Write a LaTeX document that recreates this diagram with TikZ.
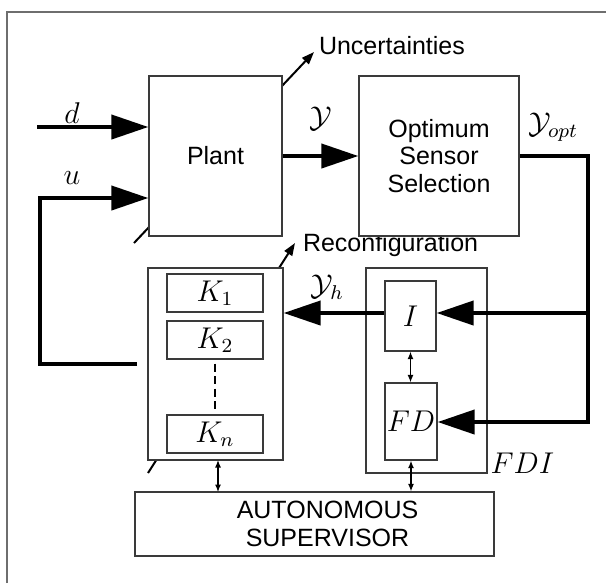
\documentclass[tikz,border=0pt]{standalone}
\usepackage{amsmath}
\usepackage{fontspec}
\setsansfont{Liberation Sans}
\usepackage{tikz}
\usetikzlibrary{arrows.meta,positioning,calc}
\definecolor{framegray}{HTML}{6E6E6E}
\definecolor{boxgray}{HTML}{3A3A3A}

\begin{document}
\begin{tikzpicture}[x=0.4pt, y=-0.4pt,
    every node/.style={font=\sffamily\fontsize{10pt}{11pt}\selectfont},
    block/.style={draw=boxgray, line width=0.5pt, fill=white, inner sep=0pt, align=center},
    mathlbl/.style={font=\large},
    sig/.style={line width=1.6pt, line join=miter, -{Triangle[length=14.8pt,width=9.6pt]}},
    link/.style={line width=0.5pt, {Latex[length=3pt,width=2.4pt]}-{Latex[length=3pt,width=2.4pt]}},
    vary/.style={line width=0.8pt, -{Triangle[length=5pt,width=3.6pt]}}]
    \useasboundingbox (0,0) rectangle (606,583);

    % Outer frame (only top and left edges visible)
    \draw[framegray, line width=0.5pt] (7,583) |- (606,12);

    % Variable-block arrows (drawn first, boxes cover the middle part)
    \coordinate (uncstart) at (134,243);
    \coordinate (uncend) at (314,52);
    \coordinate (recstart) at (148,473);
    \coordinate (recend) at (295,243);
    \draw[vary] (uncstart) -- (uncend);
    \draw[vary] (recstart) -- (recend);
    \node[anchor=west, inner sep=1pt] (unclbl) at ($(uncend)+(2,-6)$) {Uncertainties};
    \node[anchor=west, inner sep=1pt] (reclbl) at (300,245) {Reconfiguration};

    % Main blocks
    \node[block, minimum width=53.2pt, minimum height=64pt] (plant) at (215.5,156) {Plant};
    \node[block, minimum width=64pt, minimum height=64pt] (oss) at (439,156) {Optimum\\Sensor\\Selection};

    % Controller bank
    \node[block, minimum width=54pt, minimum height=76.8pt] (ctrl) at (215.5,364) {};
    \node[block, mathlbl, minimum width=38.4pt, minimum height=15.2pt] (k1) at (215,293) {$K_1$};
    \node[block, mathlbl, minimum width=38.4pt, minimum height=15.2pt] (k2) at (215,340) {$K_2$};
    \node[block, mathlbl, minimum width=38.4pt, minimum height=15.2pt] (kn) at (215,434) {$K_n$};
    \draw[line width=0.5pt, dash pattern=on 3.2pt off 1.8pt] ([yshift=-1.6pt]k2.south) -- ([yshift=2pt]kn.north);

    % FDI unit
    \node[block, minimum width=48.4pt, minimum height=82pt] (fdi) at (426.5,370.5) {};
    \node[block, mathlbl, minimum width=20.4pt, minimum height=28pt] (iso) at (410.5,316) {$I$};
    \node[block, mathlbl, minimum width=20.8pt, minimum height=30.8pt] (fd) at (411,421.5) {$FD$};
    \node[mathlbl, anchor=west, inner sep=1pt] (fdilbl) at (fdi.south east |- 0,463) {$FDI$};

    % Supervisor
    \node[block, minimum width=143.6pt, minimum height=25.6pt] (sup) at (314.5,524) {};
    \node[align=center, inner sep=0pt] (suptxt) at ($(sup.center)+(13,0)$) {AUTONOMOUS\\SUPERVISOR};

    % Inputs
    \coordinate (din) at (37,127);
    \draw[sig] (din) -- (din -| plant.west);
    \node[mathlbl] (dlbl) at (72,113) {$d$};
    \coordinate (ufb) at (137,364);
    \draw[sig] (ufb) -| (40,198) -- (plant.west |- 0,198);
    \node[mathlbl] (ulbl) at (72,178) {$u$};

    % Plant output to sensor selection
    \draw[sig] (plant.east) -- (oss.west) node[mathlbl, midway, above=6pt] (ylbl) {$\mathcal{Y}$};
    \node[mathlbl] (yoptlbl) at (553,127) {$\mathcal{Y}_{opt}$};

    % Selected measurements to FDI
    \coordinate (ybranch) at (588,313);
    \draw[sig] (oss.east) -| (588,422) -- (fd.east |- 0,422);
    \draw[sig] (ybranch) -- (iso.east |- ybranch);

    % Healthy measurements to controllers
    \draw[sig] (iso.west |- ybranch) -- (ctrl.east |- ybranch);
    \node[mathlbl] (yhlbl) at (327,287) {$\mathcal{Y}_h$};

    % Supervisor links
    \draw[link] (iso.south) -- (iso.south |- fd.north);
    \draw[link] (fd.south) -- (fd.south |- sup.north);
    \draw[link] (218,460) -- (218,492);

    \end{tikzpicture}
\end{document}
